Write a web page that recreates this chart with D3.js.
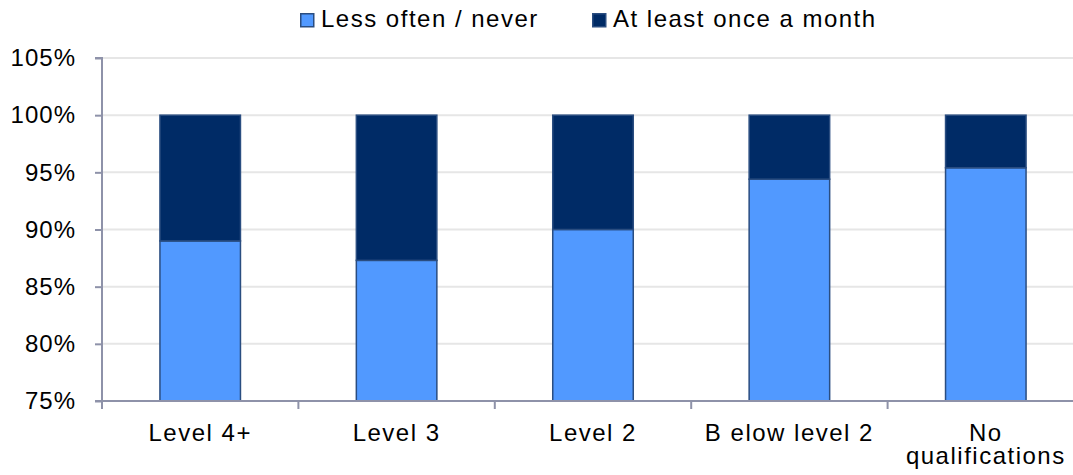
<!DOCTYPE html>
<html>
<head>
<meta charset="utf-8">
<script src="https://cdn.jsdelivr.net/npm/d3@7"></script>
<style>
  html, body { margin: 0; padding: 0; background: #fff; }
  svg text { font-family: "Liberation Sans", Arial, sans-serif; fill: #000; }
</style>
</head>
<body>
<svg id="chart" width="1073" height="475"></svg>
<script>
// Qualification levels shown along the x axis
const categories = ["Level 4+", "Level 3", "Level 2", "B elow level 2", "No\nqualifications"];
// Share answering "Less often / never" (%)
const lessOften = [89.0, 87.3, 90.0, 94.4, 95.4];
// Share answering "At least once a month" (%)
const atLeastMonthly = [11.0, 12.7, 10.0, 5.6, 4.6];
const seriesNames = ["Less often / never", "At least once a month"];
const seriesColors = ["#5199FF", "#002B66"];
const yTicks = [75, 80, 85, 90, 95, 100, 105];

const svg = d3.select("#chart");
const plotLeft = 102, plotTop = 58, plotBottom = 401, step = 196.4;

const x = d3.scaleBand()
  .domain(categories)
  .range([plotLeft, plotLeft + step * categories.length])
  .paddingInner(0.59)
  .paddingOuter(0.295);

const y = d3.scaleLinear().domain([75, 105]).range([plotBottom, plotTop]);

const axisColor = "#8E92A9";
const fontSize = 24;

// gridlines
svg.append("g")
  .selectAll("line")
  .data(yTicks)
  .join("line")
  .attr("x1", plotLeft).attr("x2", 1073)
  .attr("y1", d => y(d)).attr("y2", d => y(d))
  .attr("stroke", "#E6E6E6").attr("stroke-width", 2);

// stacked bars
const rows = categories.map((c, i) => ({ cat: c, a: lessOften[i], b: atLeastMonthly[i] }));
const stack = d3.stack().keys(["a", "b"])(rows);

svg.append("g")
  .selectAll("g")
  .data(stack)
  .join("g")
  .attr("fill", (d, i) => seriesColors[i])
  .selectAll("rect")
  .data(d => d)
  .join("rect")
  .attr("x", d => x(d.data.cat))
  .attr("width", x.bandwidth())
  .attr("y", d => y(Math.min(105, d[1])))
  .attr("height", d => y(Math.max(75, d[0])) - y(Math.min(105, d[1])))
  .attr("stroke", "#2A4D80")
  .attr("stroke-width", 1.5);

// y axis
const yAxis = d3.axisLeft(y).tickValues(yTicks).tickSize(7).tickPadding(19)
  .tickFormat(d => d + "%");
const gy = svg.append("g").attr("transform", `translate(${plotLeft},0)`).call(yAxis);
gy.select(".domain").attr("stroke", axisColor).attr("stroke-width", 2).attr("d", `M-7,${plotTop}H0V${plotBottom}H-7`);
gy.selectAll(".tick line").attr("stroke", axisColor).attr("stroke-width", 2);
gy.selectAll(".tick text")
  .attr("font-size", fontSize)
  .attr("font-family", "Liberation Sans, Arial, sans-serif")
  .attr("letter-spacing", "1px")
  .attr("fill", "#000");

// x axis line and category boundary ticks
svg.append("line")
  .attr("x1", plotLeft).attr("x2", 1073)
  .attr("y1", plotBottom).attr("y2", plotBottom)
  .attr("stroke", axisColor).attr("stroke-width", 2);
const boundaries = d3.range(categories.length + 1).map(i => plotLeft + x.step() * i);
svg.append("g")
  .selectAll("line")
  .data(boundaries)
  .join("line")
  .attr("x1", d => d).attr("x2", d => d)
  .attr("y1", plotBottom).attr("y2", plotBottom + 8)
  .attr("stroke", axisColor).attr("stroke-width", 2);

// category labels (second line of a wrapped label sits below the first)
svg.append("g")
  .selectAll("text")
  .data(categories)
  .join("text")
  .attr("text-anchor", "middle")
  .attr("font-size", fontSize)
  .attr("letter-spacing", "1.5px")
  .attr("transform", d => `translate(${x(d) + x.bandwidth() / 2},441)`)
  .each(function (d) {
    const t = d3.select(this);
    d.split("\n").forEach((ln, k) => {
      t.append("tspan").attr("x", 0).attr("y", k * 23).text(ln);
    });
  });

// legend
const legendX = [300, 592];
const lg = svg.append("g");
seriesNames.forEach((name, i) => {
  lg.append("rect")
    .attr("x", legendX[i] + 0.75).attr("y", 13.75)
    .attr("width", 13).attr("height", 13)
    .attr("fill", seriesColors[i])
    .attr("stroke", "#2A4D80").attr("stroke-width", 1.5);
  lg.append("text")
    .attr("x", legendX[i] + 21).attr("y", 27)
    .attr("font-size", fontSize)
    .attr("letter-spacing", "1.5px")
    .text(name);
});
</script>
</body>
</html>
